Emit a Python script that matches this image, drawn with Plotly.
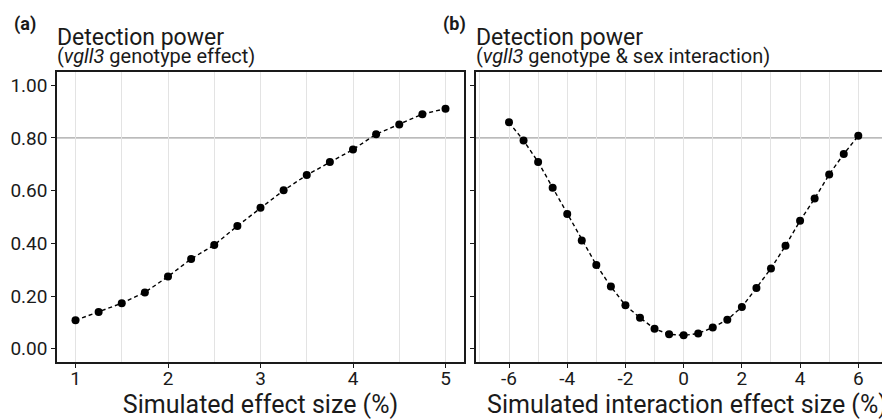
import plotly.graph_objects as go

# ---- data ----
effect_size = [1.0, 1.25, 1.5, 1.75, 2.0, 2.25, 2.5, 2.75, 3.0, 3.25, 3.5, 3.75, 4.0, 4.25, 4.5, 4.75, 5.0]
power_genotype = [0.108, 0.140, 0.173, 0.214, 0.274, 0.341, 0.394, 0.466, 0.535, 0.601, 0.659, 0.709,
                  0.756, 0.814, 0.851, 0.890, 0.911]

interaction_size = [-6.0, -5.5, -5.0, -4.5, -4.0, -3.5, -3.0, -2.5, -2.0, -1.5, -1.0, -0.5, 0.0,
                    0.5, 1.0, 1.5, 2.0, 2.5, 3.0, 3.5, 4.0, 4.5, 5.0, 5.5, 6.0]
power_interaction = [0.859, 0.790, 0.709, 0.611, 0.511, 0.411, 0.318, 0.236, 0.165, 0.118, 0.076, 0.055,
                     0.051, 0.058, 0.081, 0.110, 0.159, 0.231, 0.305, 0.391, 0.486, 0.570, 0.661, 0.739, 0.808]

threshold = 0.80

a_xticks = [1, 2, 3, 4, 5]
a_xticklabels = ["1", "2", "3", "4", "5"]
y_ticks = [0.0, 0.2, 0.4, 0.6, 0.8, 1.0]
y_ticklabels = ["0.00", "0.20", "0.40", "0.60", "0.80", "1.00"]
b_xticks = [-6, -4, -2, 0, 2, 4, 6]
b_xticklabels = ["-6", "-4", "-2", "0", "2", "4", "6"]

W, H = 890, 419
OFF = 8  # default page margin around the figure
FONT = "Roboto"
INK = "#1a1a1a"
GRID = "#e3e3e3"


def px_x(p):
    return (p - OFF) / W


def px_y(p):
    return 1 - (p - OFF) / H


fig = go.Figure()

line_style = dict(color="black", width=1.4, dash="4px,3px")
marker_style = dict(color="black", size=8)

fig.add_trace(go.Scatter(x=effect_size, y=power_genotype, mode="lines+markers",
                         line=line_style, marker=marker_style, xaxis="x", yaxis="y",
                         showlegend=False))
fig.add_trace(go.Scatter(x=interaction_size, y=power_interaction, mode="lines+markers",
                         line=line_style, marker=marker_style, xaxis="x2", yaxis="y2",
                         showlegend=False))

ydom = [px_y(362), px_y(72)]

common_x = dict(showline=True, linecolor=INK, linewidth=1.5, ticks="outside", ticklen=4,
                tickcolor=INK, tickwidth=1.2, showgrid=True, gridcolor=GRID, gridwidth=1,
                zeroline=False, tickfont=dict(family=FONT, size=19, color=INK),
                ticklabelstandoff=-6,
                title_font=dict(family=FONT, size=25, color=INK), automargin=False,
                mirror=True)
common_y = dict(showline=True, linecolor=INK, linewidth=1.5, ticks="outside", ticklen=4,
                tickcolor=INK, tickwidth=1.2, showgrid=False, zeroline=False,
                tickfont=dict(family=FONT, size=19, color=INK), automargin=False,
                range=[-0.05, 1.05], tickvals=y_ticks, ticktext=y_ticklabels)

# panel b: x=-6 at 509px, x=6 at 858.3px (reference pixels)
b_left_px, b_right_px = 476, OFF + W
b_scale = (858.3 - 509.0) / 12.0
b_range = [-6 - (509.0 - b_left_px) / b_scale, 6 + (b_right_px - 858.3) / b_scale]

fig.update_layout(
    width=W, height=H,
    margin=dict(l=0, r=0, t=0, b=0, pad=0),
    paper_bgcolor="white", plot_bgcolor="white",
    font=dict(family=FONT, color=INK),
    xaxis=dict(common_x, domain=[px_x(57), px_x(464)], range=[0.8, 5.2],
               tickvals=a_xticks, ticktext=a_xticklabels,
               minor=dict(dtick=0.5, tick0=0.5, showgrid=True, gridcolor=GRID, gridwidth=1),
               title=dict(text="Simulated effect size (%)", standoff=5), anchor="y"),
    yaxis=dict(common_y, domain=ydom, anchor="x", mirror=True),
    xaxis2=dict(common_x, domain=[px_x(b_left_px), 1.0], range=b_range,
                tickvals=b_xticks, ticktext=b_xticklabels,
                minor=dict(dtick=1, tick0=1, showgrid=True, gridcolor=GRID, gridwidth=1),
                title=dict(text="Simulated interaction effect size (%)", standoff=5), anchor="y2"),
    yaxis2=dict(common_y, domain=ydom, anchor="x2", showticklabels=False, mirror=False),
)

for xr, yr in (("x domain", "y"), ("x2 domain", "y2")):
    fig.add_shape(type="line", xref=xr, yref=yr, x0=0, x1=1, y0=threshold, y1=threshold,
                  line=dict(color="#8c8c8c", width=1), layer="below")

ann = []
ann.append(dict(text="<b>(a)</b>", x=px_x(12), y=px_y(24), xanchor="left", yanchor="middle",
                font=dict(family=FONT, size=18, color=INK)))
ann.append(dict(text="<b>(b)</b>", x=px_x(441), y=px_y(24), xanchor="left", yanchor="middle",
                font=dict(family=FONT, size=18, color=INK)))
for x0, sub in ((55, "(<i>vgll3</i> genotype effect)"),
                (474, "(<i>vgll3</i> genotype &amp; sex interaction)")):
    text = ("<span style='font-size:23px'>Detection power</span><br>"
            f"<span style='font-size:20px'>{sub}</span>")
    ann.append(dict(text=text, x=px_x(x0), y=px_y(70), xanchor="left", yanchor="bottom",
                    align="left", font=dict(family=FONT, size=14, color=INK)))
for a in ann:
    a.update(xref="paper", yref="paper", showarrow=False)
fig.update_layout(annotations=ann)

fig.write_html("out.html")
